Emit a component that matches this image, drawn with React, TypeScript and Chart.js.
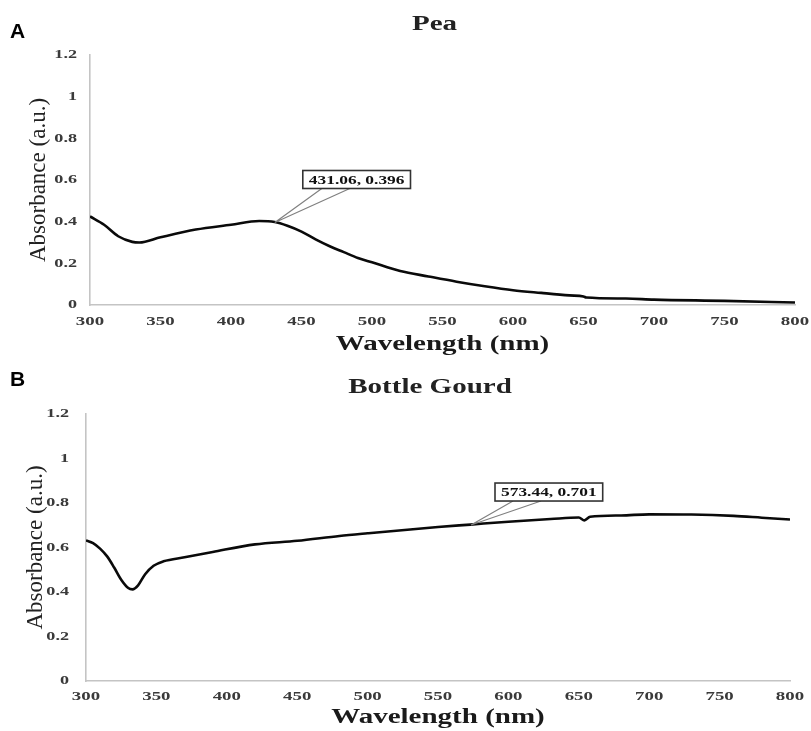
import React, { useEffect, useRef } from "react";
import { Chart, registerables } from "chart.js";

Chart.register(...registerables);

// ---- Data ----
const peaWavelengths = [300, 310, 320, 330, 335, 350, 375, 400, 420, 431, 440, 450, 460, 470, 480, 490, 500, 520, 540, 560, 580, 600, 620, 640, 650, 652, 680, 700, 750, 800];
const peaAbsorbance = [0.425, 0.385, 0.33, 0.303, 0.3, 0.325, 0.362, 0.385, 0.403, 0.398, 0.38, 0.352, 0.315, 0.282, 0.254, 0.226, 0.205, 0.163, 0.137, 0.112, 0.09, 0.071, 0.058, 0.046, 0.041, 0.036, 0.031, 0.026, 0.02, 0.012];

const gourdWavelengths = [300, 305, 310, 315, 320, 325, 330, 333, 337, 342, 348, 355, 370, 390, 420, 450, 480, 500, 550, 573, 600, 630, 650, 654, 658, 680, 700, 730, 760, 780, 800];
const gourdAbsorbance = [0.632, 0.62, 0.595, 0.56, 0.51, 0.455, 0.418, 0.412, 0.43, 0.48, 0.518, 0.538, 0.556, 0.58, 0.614, 0.63, 0.652, 0.664, 0.692, 0.703, 0.716, 0.728, 0.735, 0.722, 0.738, 0.744, 0.749, 0.748, 0.742, 0.734, 0.726];

const peaPeak = { x: 431.06, y: 0.396, label: "431.06, 0.396" };
const gourdPeak = { x: 573.44, y: 0.701, label: "573.44, 0.701" };

const xMin = 300;
const xMax = 800;
const xStep = 50;
const yMin = 0;
const yMax = 1.2;
const yStep = 0.2;

const xAxisTitle = "Wavelength (nm)";
const yAxisTitle = "Absorbance (a.u.)";

const SERIF = '"Liberation Serif", "Times New Roman", serif';
const SANS = '"Liberation Sans", Arial, sans-serif';
const SX = 1.45; // horizontal stretch of text in the reference

type PanelCfg = {
  letter: string;
  title: string;
  titleY: number;
  letterY: number;
  ann: { x: number; y: number; label: string };
  dx: number;
  dy: number;
  l1: number;
  l2: number;
  yTickGap: number;
  xTickY: number;
  xTitleY: number;
};

function sText(ctx: CanvasRenderingContext2D, text: string, x: number, y: number, sx: number, align: CanvasTextAlign) {
  ctx.save();
  ctx.translate(x, y);
  ctx.scale(sx, 1);
  ctx.textAlign = align;
  ctx.textBaseline = "middle";
  ctx.fillText(text, 0, 0);
  ctx.restore();
}

const fmt = (v: number) => String(Math.round(v * 10) / 10);

const decorPlugin = {
  id: "decor",
  afterDraw(chart: any, _args: any, opts: PanelCfg) {
    const { ctx, scales, chartArea } = chart;
    const xs = scales.x;
    const ys = scales.y;
    ctx.save();
    // panel letter
    ctx.fillStyle = "#000";
    ctx.font = `bold 21px ${SANS}`;
    sText(ctx, opts.letter, 10, opts.letterY, 1, "left");
    // title
    ctx.fillStyle = "#222";
    ctx.font = `bold 20px ${SERIF}`;
    sText(ctx, opts.title, (chartArea.left + chartArea.right) / 2 - 8, opts.titleY, SX, "center");
    // x tick labels
    ctx.fillStyle = "#3a3a3a";
    ctx.font = `bold 13px ${SERIF}`;
    xs.ticks.forEach((t: any, i: number) => {
      sText(ctx, fmt(t.value), xs.getPixelForTick(i), opts.xTickY, SX, "center");
    });
    // y tick labels
    ctx.font = `bold 12.5px ${SERIF}`;
    ys.ticks.forEach((t: any, i: number) => {
      sText(ctx, fmt(t.value), chartArea.left - opts.yTickGap, ys.getPixelForTick(i), SX, "right");
    });
    // x axis title
    ctx.fillStyle = "#1a1a1a";
    ctx.font = `bold 20px ${SERIF}`;
    sText(ctx, xAxisTitle, (chartArea.left + chartArea.right) / 2, opts.xTitleY, SX, "center");
    // annotation
    const px = xs.getPixelForValue(opts.ann.x);
    const py = ys.getPixelForValue(opts.ann.y);
    ctx.font = `bold 12px ${SERIF}`;
    const tw = ctx.measureText(opts.ann.label).width * SX;
    const w = tw + 12;
    const h = 18;
    const bx = px + opts.dx;
    const by = py + opts.dy;
    ctx.strokeStyle = "#808080";
    ctx.lineWidth = 1.2;
    ctx.beginPath();
    ctx.moveTo(px, py);
    ctx.lineTo(bx + opts.l1, by + h);
    ctx.moveTo(px, py);
    ctx.lineTo(bx + opts.l2, by + h);
    ctx.stroke();
    ctx.fillStyle = "#fff";
    ctx.fillRect(bx, by, w, h);
    ctx.strokeStyle = "#333";
    ctx.lineWidth = 1.6;
    ctx.strokeRect(bx, by, w, h);
    ctx.fillStyle = "#111";
    sText(ctx, opts.ann.label, bx + w / 2, by + h / 2 + 1, SX, "center");
    ctx.restore();
  },
};

function makeConfig(
  xs: number[],
  ys: number[],
  pad: { top: number; right: number },
  axisLeft: number,
  axisBottomH: number,
  yTitlePadTop: number,
  decor: PanelCfg
): any {
  return {
    type: "line",
    data: {
      datasets: [
        {
          data: xs.map((x, i) => ({ x, y: ys[i] })),
          borderColor: "#0a0a0a",
          borderWidth: 2.6,
          pointRadius: 0,
          cubicInterpolationMode: "monotone",
          fill: false,
        },
      ],
    },
    options: {
      animation: false,
      responsive: false,
      maintainAspectRatio: false,
      layout: { padding: { left: 0, right: pad.right, top: pad.top, bottom: 0 } },
      plugins: {
        legend: { display: false },
        tooltip: { enabled: false },
        title: { display: false },
        decor,
      },
      scales: {
        x: {
          type: "linear",
          min: xMin,
          max: xMax,
          grid: { display: false, drawTicks: false },
          border: { color: "#c4c4c4", width: 1.6 },
          ticks: { stepSize: xStep, display: false },
          title: { display: false, text: xAxisTitle },
          afterFit: (s: any) => {
            s.height = axisBottomH;
          },
        },
        y: {
          min: yMin,
          max: yMax,
          grid: { display: false, drawTicks: false },
          border: { color: "#c4c4c4", width: 1.6 },
          ticks: { stepSize: yStep, display: false },
          title: {
            display: true,
            text: yAxisTitle,
            color: "#222",
            font: { family: SERIF, size: 23, weight: "normal" },
            padding: { top: yTitlePadTop, bottom: 0 },
          },
          afterFit: (s: any) => {
            s.width = axisLeft;
          },
        },
      },
    },
    plugins: [decorPlugin],
  };
}

function Panel(props: { cfg: any; height: number; top: number }) {
  const ref = useRef<HTMLCanvasElement | null>(null);
  useEffect(() => {
    if (!ref.current) return;
    const chart = new Chart(ref.current, props.cfg);
    return () => chart.destroy();
  }, []);
  return (
    <canvas
      ref={ref}
      width={811}
      height={props.height}
      style={{ position: "absolute", left: 0, top: props.top, width: 811, height: props.height, display: "block" }}
    />
  );
}

export default function App() {
  const cfgA = makeConfig(peaWavelengths, peaAbsorbance, { top: 55, right: 16 }, 90, 60, 25, {
    letter: "A",
    title: "Pea",
    titleY: 25,
    letterY: 32,
    ann: peaPeak,
    dx: 28,
    dy: -52,
    l1: 19,
    l2: 47,
    yTickGap: 13,
    xTickY: 322,
    xTitleY: 345,
  });
  const cfgB = makeConfig(gourdWavelengths, gourdAbsorbance, { top: 49, right: 21 }, 86, 50, 22, {
    letter: "B",
    title: "Bottle Gourd",
    titleY: 23,
    letterY: 15,
    ann: gourdPeak,
    dx: 24,
    dy: -42,
    l1: 18,
    l2: 46,
    yTickGap: 17,
    xTickY: 332,
    xTitleY: 353,
  });
  return (
    <div style={{ position: "fixed", left: 0, top: 0, width: 811, height: 731, background: "#fff", overflow: "hidden" }}>
      <Panel cfg={cfgA} height={365} top={0} />
      <Panel cfg={cfgB} height={366} top={365} />
    </div>
  );
}
